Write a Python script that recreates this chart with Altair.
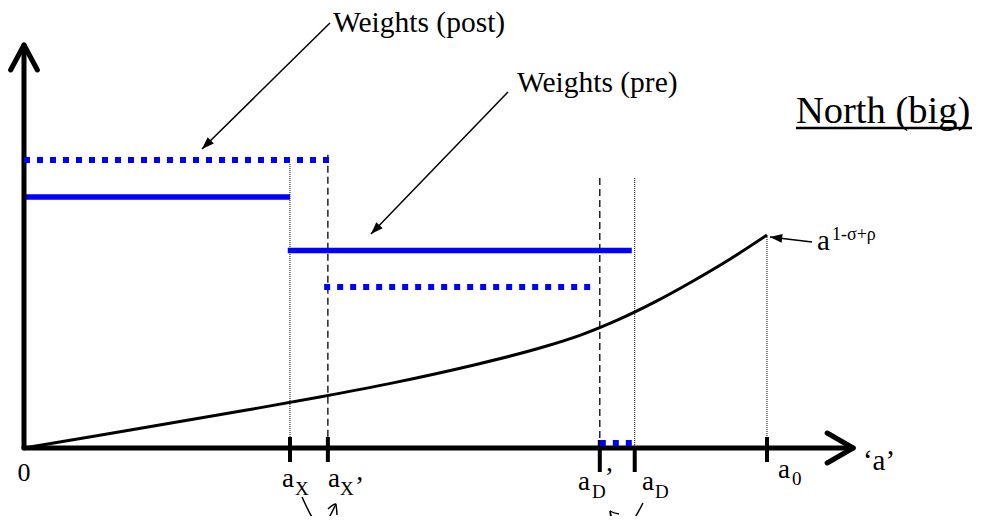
import math
import altair as alt
import pandas as pd

# ---------------- data (units: 'a' along x, weight along y) ----------------
# ticks on the 'a' axis
tick_pos = [3.58, 4.09, 7.75, 8.22, 10.0]
tick_top = [0.275, 0.275, 0.2, 0.025, 0.275]
tick_bot = [-0.35, -0.35, -0.6, -0.6, -0.35]

# vertical guide lines from the ticks
guide_x = [3.58, 4.09, 7.75, 8.22, 10.0]
guide_top = [7.1, 7.33, 6.75, 6.75, 5.325]
guide_bot = [0.275, 0.275, 0.2, 0.025, 0.275]
guide_kind = ["dotted", "dashed", "dashed", "dotted", "dotted"]

# weights (pre): solid blue steps
pre_x0 = [0.0, 3.55]
pre_x1 = [3.58, 8.18]
pre_y = [6.275, 4.94]

# weights (post): dotted blue steps
post_x0 = [0.0, 4.04, 7.75]
post_x1 = [4.16, 7.71, 8.20]
post_y = [7.2, 4.025, 0.125]

# curve a^(1-sigma+rho)
curve_x = [0, 1, 2, 3, 4, 5, 6, 7, 7.5, 8, 8.5, 9, 9.5, 10]
curve_y = [0, 0.31, 0.63, 0.95, 1.28, 1.64, 2.05, 2.53, 2.83, 3.21, 3.66, 4.17, 4.72, 5.325]

# axes with open arrowheads (polylines)
axis_path_id = ["xaxis", "xaxis", "xhead", "xhead", "xhead", "yaxis", "yaxis", "yhead", "yhead", "yhead"]
axis_path_x = [0.0, 11.16, 10.81, 11.16, 10.81, 0.0, 0.0, -0.18, 0.0, 0.18]
axis_path_y = [0.0, 0.0, 0.375, 0.0, -0.375, 0.0, 10.075, 9.45, 10.075, 9.45]

# little curved arrows below the axis
swap_id = ["sx", "sx", "sx", "sxh", "sxh", "sxh", "sd", "sd", "sd", "sd", "sdh", "sdh", "sdh"]
swap_x = [3.742, 3.997, 4.199, 4.091, 4.199, 4.213, 8.331, 8.102, 7.981, 7.887, 8.008, 7.887, 7.900]
swap_y = [-1.225, -1.925, -1.4, -1.525, -1.4, -1.675, -1.375, -2.025, -2.1, -1.575, -1.65, -1.575, -1.825]

# annotation pointers (from -> tip)
ptr_x0 = [4.118, 6.514, 10.606]
ptr_y0 = [10.625, 8.9, 5.15]
ptr_x1 = [2.396, 4.670, 10.04]
ptr_y1 = [7.475, 5.35, 5.275]

# texts
txt = ["0", "a", "X", "a", "X", "\u2019", "a", "D", "\u2019", "a", "D", "a", "0",
       "\u2018a\u2019", "Weights (post)", "Weights (pre)", "North (big)", "a", "1-\u03c3+\u03c1"]
txt_x = [0.0, 3.472, 3.647, 4.091, 4.253, 4.455, 7.456, 7.645, 7.815, 8.318, 8.493, 10.148, 10.337,
         11.292, 4.159, 6.635, 10.39, 10.673, 10.875]
txt_y = [-0.825, -0.975, -1.175, -0.975, -1.175, -1.175, -1.05, -1.25, -0.95, -1.05, -1.25, -0.75, -0.925,
         -0.55, 10.4, 8.9, 8.125, 4.95, 5.2]
txt_size = [26, 27, 19, 27, 19, 27, 27, 19, 27, 27, 19, 27, 19, 29, 29.5, 29.5, 38.5, 29, 18]
txt_align = ["center"] + ["left"] * 18

underline_x = [10.39]
underline_x2 = [12.76]
underline_y = [8.0]

# ---------------- scales ----------------
W, H = 965, 508
XD = [-0.2153, 12.773]
YD = [-1.7, 11.0]
xs = alt.Scale(domain=XD, nice=False, zero=False)
ys = alt.Scale(domain=YD, nice=False, zero=False)
px_x = W / (XD[1] - XD[0])
px_y = H / (YD[1] - YD[0])


def X(f):
    return alt.X(f, type="quantitative", scale=xs, axis=None)


def Y(f):
    return alt.Y(f, type="quantitative", scale=ys, axis=None)


BLUE = "#0000ff"
FONT = "Liberation Serif"

# ---------------- tables ----------------
ticks = pd.DataFrame({"x": tick_pos, "y": tick_top, "y2": tick_bot})
guides = pd.DataFrame({"x": guide_x, "y": guide_top, "y2": guide_bot, "k": guide_kind})
pre = pd.DataFrame({"x": pre_x0, "x2": pre_x1, "y": pre_y})
post = pd.DataFrame({"x": post_x0, "x2": post_x1, "y": post_y})
curve = pd.DataFrame({"x": curve_x, "y": curve_y})
axes_df = pd.DataFrame({"id": axis_path_id, "x": axis_path_x, "y": axis_path_y,
                        "o": list(range(len(axis_path_x)))})
swap_df = pd.DataFrame({"id": swap_id, "x": swap_x, "y": swap_y, "o": list(range(len(swap_x)))})
ang = []
for a0, b0, a1, b1 in zip(ptr_x0, ptr_y0, ptr_x1, ptr_y1):
    dx = (a1 - a0) * px_x
    dy = -(b1 - b0) * px_y
    ang.append(math.degrees(math.atan2(dx, -dy)) % 360)
ptr = pd.DataFrame({"x": ptr_x0, "y": ptr_y0, "x2": ptr_x1, "y2": ptr_y1, "ang": ang})
texts = pd.DataFrame({"t": txt, "x": txt_x, "y": txt_y, "s": txt_size, "al": txt_align})
uline = pd.DataFrame({"x": underline_x, "x2": underline_x2, "y": underline_y})

# ---------------- layers ----------------
dotted_guides = alt.Chart(guides).transform_filter(alt.datum.k == "dotted").mark_rule(
    color="black", strokeWidth=1, strokeDash=[1, 1]
).encode(x=X("x"), y=Y("y"), y2="y2")

dashed_guides = alt.Chart(guides).transform_filter(alt.datum.k == "dashed").mark_rule(
    color="black", strokeWidth=1.3, strokeDash=[7, 4]
).encode(x=X("x"), y=Y("y"), y2="y2")

pre_lines = alt.Chart(pre).mark_rule(color=BLUE, strokeWidth=5.5, strokeCap="butt").encode(
    x=X("x"), x2="x2", y=Y("y"))

post_lines = alt.Chart(post).mark_rule(color=BLUE, strokeWidth=6, strokeDash=[6, 7], strokeCap="butt").encode(
    x=X("x"), x2="x2", y=Y("y"))

curve_line = alt.Chart(curve).mark_line(color="black", strokeWidth=3, interpolate="monotone").encode(
    x=X("x"), y=Y("y"))

axes_lines = alt.Chart(axes_df).mark_line(color="black", strokeWidth=5, strokeCap="round",
                                          strokeJoin="round").encode(
    x=X("x"), y=Y("y"), detail="id:N", order="o:Q")

tick_marks = alt.Chart(ticks).mark_rule(color="black", strokeWidth=4).encode(
    x=X("x"), y=Y("y"), y2="y2")

swap_lines = alt.Chart(swap_df).mark_line(color="black", strokeWidth=1.5, interpolate="monotone").encode(
    x=X("x"), y=Y("y"), detail="id:N", order="o:Q")

ptr_lines = alt.Chart(ptr).mark_rule(color="black", strokeWidth=1.5).encode(
    x=X("x"), y=Y("y"), x2="x2", y2="y2")

ptr_heads = alt.Chart(ptr).mark_point(
    shape="M0,0 L0.36,1 L-0.36,1 Z", filled=True, color="black", opacity=1, size=600
).encode(x=X("x2"), y=Y("y2"), angle=alt.Angle("ang:Q", scale=None))

text_left = alt.Chart(texts).transform_filter(alt.datum.al == "left").mark_text(
    font=FONT, align="left", baseline="alphabetic", color="black"
).encode(x=X("x"), y=Y("y"), text="t:N", size=alt.Size("s:Q", scale=None))

text_center = alt.Chart(texts).transform_filter(alt.datum.al == "center").mark_text(
    font=FONT, align="center", baseline="alphabetic", color="black"
).encode(x=X("x"), y=Y("y"), text="t:N", size=alt.Size("s:Q", scale=None))

underline = alt.Chart(uline).mark_rule(color="black", strokeWidth=2.6).encode(
    x=X("x"), x2="x2", y=Y("y"))

chart = alt.layer(
    dotted_guides, dashed_guides, curve_line, pre_lines, axes_lines, tick_marks, post_lines,
    swap_lines, ptr_lines, ptr_heads, text_left, text_center, underline
).properties(
    width=W, height=H, padding=0, autosize=alt.AutoSizeParams(type="none")
).configure_view(stroke=None)

chart.save("out.html", embed_options={"renderer": "svg", "actions": False})
